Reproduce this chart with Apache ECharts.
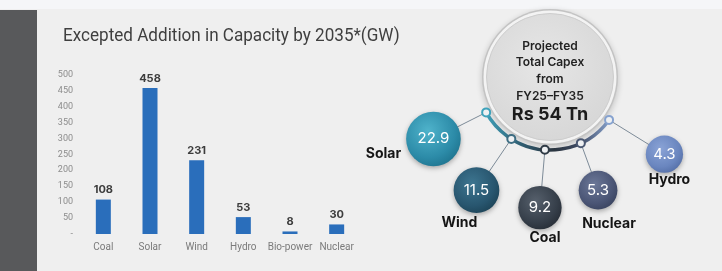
<!DOCTYPE html>
<html>
<head>
<meta charset="utf-8">
<script src="https://cdn.jsdelivr.net/npm/echarts@6/dist/echarts.min.js"></script>
<style>
html,body{margin:0;padding:0;background:#efefef;}
#chartBox{width:722px;height:271px;}
</style>
</head>
<body>
<div id="chartBox"></div>
<script>
// capacity addition by 2035 (GW)
const categories = ['Coal', 'Solar', 'Wind', 'Hydro', 'Bio-power', 'Nuclear'];
const capacityGW = [108, 458, 231, 53, 8, 30];
const yMax = 500;
const yStep = 50;

// projected capex FY25-FY35 (Rs Tn)
const capexNames = ['Solar', 'Wind', 'Coal', 'Nuclear', 'Hydro'];
const capexTn = [22.9, 11.5, 9.2, 5.3, 4.3];
const capexTotal = 54;
const hubLines = ['Projected', 'Total Capex', 'from', 'FY25–FY35'];

// layout of the bubble fan (polar: angle clockwise from east, distance in px)
const bubbleAngle = [152, 123, 94.4, 67, 34];
const bubbleDist = [132, 135, 131, 123, 138];
const nodeAngle = [151, 122, 94, 65, 36];
const nodeR = 73;
const labelOffset = [[-50, 15], [-17, 33], [5, 30], [11, 34], [5, 26]];
const bubbleColors = [
	['#4fb3cb', '#2c8ba8', '#1f7590'],
	['#3d7590', '#28566f', '#1d4458'],
	['#56606c', '#363f4a', '#272e37'],
	['#6c7898', '#4a5575', '#3a4460'],
	['#8aa3d6', '#6a86bf', '#5670a8']
];
const nodeColors = ['#3ea2bb', '#3d6d82', '#2f3a45', '#4b5872', '#86a2cf'];

function bubbleRadius(v) {
	return 12 + 3.2 * Math.sqrt(v);
}

let myChart = echarts.init(document.getElementById('chartBox'));

let option = {
	backgroundColor: '#efefef',
	animation: false,
	graphic: [
		{type: 'rect', left: 0, top: 0, shape: {width: 722, height: 9}, style: {fill: '#f5f6f8'}, z: 0},
		{type: 'rect', left: 0, top: 10, shape: {width: 37, height: 261}, style: {fill: '#58595b'}, z: 0},
		{
			type: 'text', x: 63, y: 36.5, scaleX: 0.9,
			style: {
				text: 'Excepted Addition in Capacity by 2035*(GW)',
				fill: '#3f3f3f', font: '19px Roboto', verticalAlign: 'middle'
			}
		}
	],
	grid: {left: 80, top: 74.6, width: 280, height: 159.4},
	xAxis: {
		type: 'category',
		data: categories,
		axisLine: {show: false},
		axisTick: {show: false},
		axisLabel: {color: '#7a7a7a', fontSize: 10, fontFamily: 'Roboto', margin: 8, interval: 0}
	},
	yAxis: {
		type: 'value',
		min: 0,
		max: yMax,
		interval: yStep,
		splitLine: {show: false},
		axisLabel: {
			color: '#8c8c8c', fontSize: 9, fontFamily: 'Roboto', margin: 7,
			formatter: v => v === 0 ? '-' : v
		}
	},
	polar: {center: [550, 77], radius: 160},
	angleAxis: {type: 'value', min: 0, max: 360, startAngle: 0, clockwise: true, show: false},
	radiusAxis: {type: 'value', min: 0, max: 160, show: false},
	series: [
		{
			type: 'bar',
			data: capacityGW,
			barWidth: 15,
			itemStyle: {color: '#2a6ebb'},
			label: {
				show: true, position: 'top', distance: 4,
				color: '#3d3d3d', fontSize: 11, fontWeight: 'bold', fontFamily: 'Inter'
			}
		},
		{
			// hub circle + arc
			type: 'custom',
			coordinateSystem: 'polar',
			data: [[0, 0]],
			z: 1,
			silent: true,
			renderItem: function (params, api) {
				let c = api.coord([0, 0]);
				let toRad = d => d * Math.PI / 180;
				return {
					type: 'group',
					children: [
						{type: 'circle', shape: {cx: c[0], cy: c[1], r: 68}, style: {fill: '#c3c3c3', shadowBlur: 6, shadowColor: 'rgba(0,0,0,0.2)', shadowOffsetY: 2}},
						{type: 'circle', shape: {cx: c[0], cy: c[1], r: 66.5}, style: {fill: '#f3f3f3'}},
						{type: 'circle', shape: {cx: c[0], cy: c[1], r: 63.5}, style: {
							fill: new echarts.graphic.RadialGradient(0.45, 0.4, 0.65, [
								{offset: 0, color: '#e6e6e6'},
								{offset: 1, color: '#d6d6d6'}
							]),
							stroke: '#cdcdcd', lineWidth: 1
						}},
						{type: 'text', x: c[0], y: c[1] - 6, style: {
							text: hubLines.join('\n'), fill: '#222', font: '600 12px Inter',
							lineHeight: 16.7, align: 'center', verticalAlign: 'middle'
						}},
						{type: 'text', x: c[0], y: c[1] + 38, style: {
							text: 'Rs ' + capexTotal + ' Tn', fill: '#1c1c1c', font: 'bold 18px Inter',
							align: 'center', verticalAlign: 'middle'
						}},
						{type: 'arc', shape: {
							cx: c[0], cy: c[1], r: nodeR,
							startAngle: toRad(nodeAngle[nodeAngle.length - 1]), endAngle: toRad(nodeAngle[0]), clockwise: true
						}, style: {
							fill: null, lineWidth: 3.5,
							stroke: new echarts.graphic.LinearGradient(0, 0, 1, 0, [
								{offset: 0, color: '#3ea2bb'},
								{offset: 0.3, color: '#2f5c70'},
								{offset: 0.55, color: '#2b3540'},
								{offset: 0.75, color: '#3e4a63'},
								{offset: 1, color: '#8aa5d0'}
							])
						}}
					]
				};
			}
		},
		{
			// capex bubbles
			type: 'custom',
			coordinateSystem: 'polar',
			encode: {radius: 0, angle: 1},
			data: capexTn.map((v, i) => [bubbleDist[i], bubbleAngle[i], v]),
			z: 2,
			silent: true,
			renderItem: function (params, api) {
				let i = params.dataIndex;
				let c = api.coord([api.value(0), api.value(1)]);
				let n = api.coord([nodeR, nodeAngle[i]]);
				let r = bubbleRadius(capexTn[i]);
				let col = bubbleColors[i];
				return {
					type: 'group',
					children: [
						{type: 'line', shape: {x1: n[0], y1: n[1], x2: c[0], y2: c[1]}, style: {stroke: '#7d8b98', lineWidth: 1}},
						{type: 'circle', shape: {cx: c[0], cy: c[1], r: r}, style: {
							fill: new echarts.graphic.RadialGradient(0.4, 0.35, 0.7, [
								{offset: 0, color: col[0]},
								{offset: 0.7, color: col[1]},
								{offset: 1, color: col[2]}
							]),
							shadowBlur: 5, shadowColor: 'rgba(0,0,0,0.3)', shadowOffsetY: 2
						}},
						{type: 'text', x: c[0], y: c[1], style: {
							text: String(capexTn[i]), fill: '#ffffff', font: '15px Inter',
							align: 'center', verticalAlign: 'middle'
						}},
						{type: 'text', x: c[0] + labelOffset[i][0], y: c[1] + labelOffset[i][1], style: {
							text: capexNames[i], fill: '#151515', font: 'bold 14px Inter',
							align: 'center', verticalAlign: 'middle'
						}},
						{type: 'circle', shape: {cx: n[0], cy: n[1], r: 4}, style: {
							fill: '#eef0f2', stroke: nodeColors[i], lineWidth: 2
						}}
					]
				};
			}
		}
	]
};
myChart.setOption(option, true);
</script>
</body>
</html>
